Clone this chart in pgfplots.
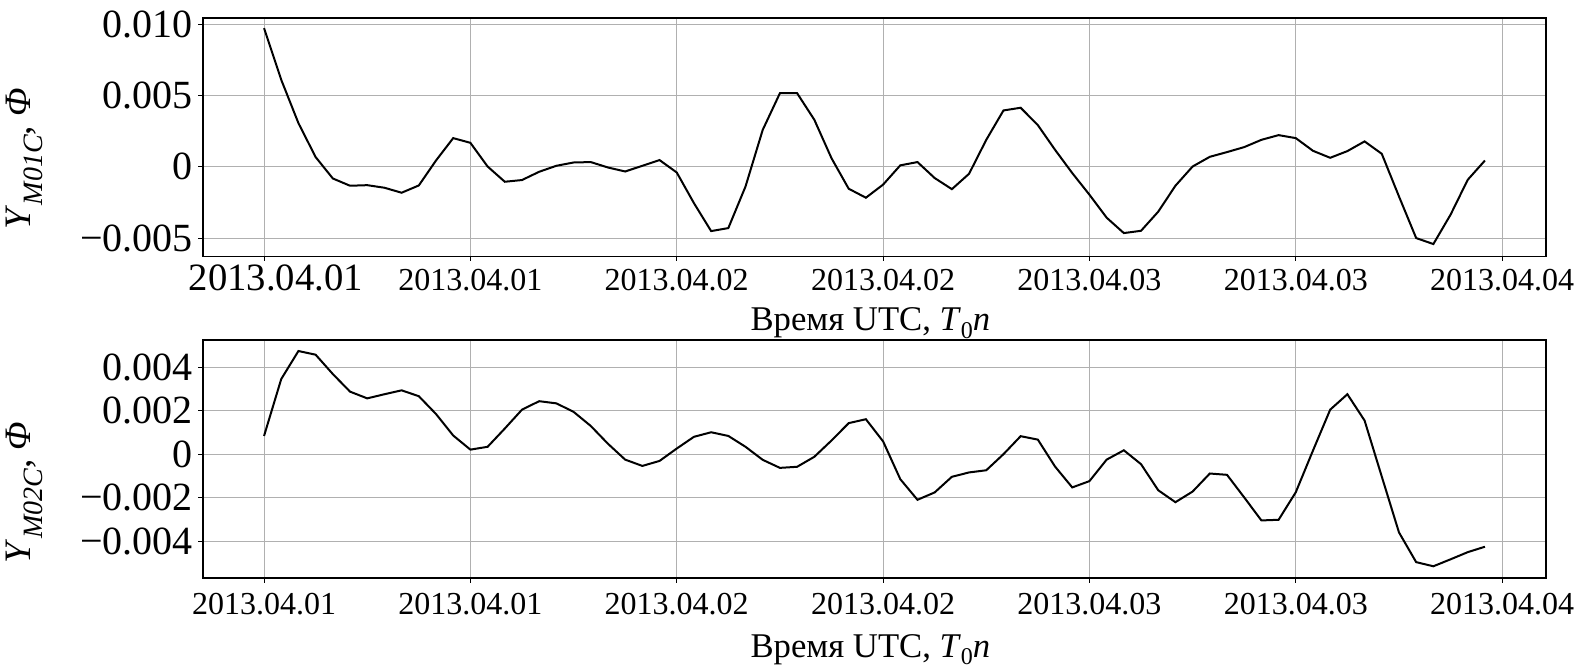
\documentclass[border=0pt]{standalone}
\usepackage{fontspec}
\setmainfont{Liberation Serif}
\usepackage{pgfplots}
\usepackage{pgfplotstable}
\pgfplotsset{compat=1.18}

\pgfplotstableread{
x y
0 0.00972
1 0.0061
2 0.00306
3 0.00068
4 -0.00082
5 -0.00133
6 -0.00129
7 -0.00147
8 -0.00182
9 -0.00131
10 0.00044
11 0.00201
12 0.00168
13 0.00002
14 -0.00105
15 -0.00093
16 -0.00035
17 0.00007
18 0.0003
19 0.00033
20 -0.00005
21 -0.00033
22 0.00007
23 0.00047
24 -0.0004
25 -0.00255
26 -0.00451
27 -0.0043
28 -0.00138
29 0.00259
30 0.00516
31 0.00516
32 0.0033
33 0.0006
34 -0.00154
35 -0.00217
36 -0.00125
37 0.0001
38 0.00033
39 -0.00079
40 -0.00157
41 -0.00049
42 0.00189
43 0.00395
44 0.00414
45 0.00292
46 0.00119
47 -0.00044
48 -0.00196
49 -0.00357
50 -0.00465
51 -0.00449
52 -0.00315
53 -0.00133
54 0.00002
55 0.0007
56 0.00103
57 0.00138
58 0.00189
59 0.00222
60 0.00201
61 0.00112
62 0.00063
63 0.0011
64 0.00178
65 0.00091
66 -0.00208
67 -0.005
68 -0.00542
69 -0.00336
70 -0.00091
71 0.00044
}\topdata

\pgfplotstableread{
x y
0 0.00084
1 0.00346
2 0.00475
3 0.00458
4 0.00369
5 0.00288
6 0.00257
7 0.00276
8 0.00294
9 0.00267
10 0.00185
11 0.00086
12 0.00021
13 0.00034
14 0.00118
15 0.00205
16 0.00244
17 0.00234
18 0.00195
19 0.0013
20 0.00048
21 -0.00025
22 -0.00054
23 -0.00031
24 0.00026
25 0.0008
26 0.00101
27 0.00084
28 0.00034
29 -0.00026
30 -0.00063
31 -0.00058
32 -0.00012
33 0.00063
34 0.00143
35 0.00161
36 0.00059
37 -0.00115
38 -0.0021
39 -0.00176
40 -0.00104
41 -0.00084
42 -0.00074
43 0.0
44 0.00083
45 0.00067
46 -0.00057
47 -0.00153
48 -0.00124
49 -0.00025
50 0.00018
51 -0.00046
52 -0.00166
53 -0.00221
54 -0.00172
55 -0.00089
56 -0.00095
57 -0.00199
58 -0.00305
59 -0.00302
60 -0.00175
61 0.00017
62 0.00205
63 0.00276
64 0.00155
65 -0.00103
66 -0.0036
67 -0.00497
68 -0.00516
69 -0.00484
70 -0.00451
71 -0.00426
}\botdata

\newcommand{\tl}{\fontsize{24}{28}\selectfont}
\newcommand{\yl}{\fontsize{30}{34}\selectfont}

\pgfplotsset{
  myaxis/.style={
    scale only axis,
    width=1007.25pt,
    xmin=-3.55, xmax=74.55,
    xtick={0,12,24,36,48,60,72},
    scaled y ticks=false,
    grid=major,
    major grid style={color=black!31, line width=0.6pt},
    axis line style={line width=1.1pt},
    tick align=outside,
    major tick length=3.4pt,
    tick style={line width=0.75pt, color=black},
    xtick pos=bottom, ytick pos=left,
    yticklabel style={font=\yl, anchor=east, inner sep=0pt, xshift=-4pt},
    xlabel style={font=\fontsize{26}{30}\selectfont, anchor=base, inner sep=0pt},
    ylabel style={font=\fontsize{28}{32}\selectfont, anchor=center, inner sep=0pt},
    xlabel={Время UTC, \textit{T}\raisebox{-0.22em}{\fontsize{18}{20}\selectfont 0}\textit{n}},
  }
}

\begin{document}
\begin{tikzpicture}
\useasboundingbox (0,0) rectangle (1182.75pt,500.25pt);
\begin{axis}[myaxis,
  at={(152.25pt,307.9pt)}, anchor=south west,
  height=178.9pt,
  ymin=-0.00629, ymax=0.01044,
  ytick={-0.005,0,0.005,0.010},
  yticklabels={−0.005,0,0.005,0.010},
  xticklabels={{\hspace*{17.8pt}\fontsize{29}{32}\selectfont 2013.04.01},2013.04.01,2013.04.02,2013.04.02,2013.04.03,2013.04.03,2013.04.04},
  xticklabel style={font=\tl, anchor=base, inner sep=0pt, yshift=-22pt},
  xlabel style={at={(axis description cs:0.497,-0.311)}},
  ylabel style={at={(axis description cs:-0.133,0.41)}},
  ylabel={\textit{Y}\raisebox{-0.3em}{\fontsize{21}{23}\selectfont\textit{M01C}}, \textit{Φ}},
]
\addplot[black, line width=1.5pt] table[x=x,y=y] {\topdata};
\end{axis}
\begin{axis}[myaxis,
  at={(152.25pt,66.75pt)}, anchor=south west,
  height=178.5pt,
  ymin=-0.0057, ymax=0.005257,
  ytick={-0.004,-0.002,0,0.002,0.004},
  yticklabels={−0.004,−0.002,0,0.002,0.004},
  xticklabels={2013.04.01,2013.04.01,2013.04.02,2013.04.02,2013.04.03,2013.04.03,2013.04.04},
  xticklabel style={font=\tl, anchor=base, inner sep=0pt, yshift=-24pt},
  xlabel style={at={(axis description cs:0.497,-0.332)}},
  ylabel style={at={(axis description cs:-0.133,0.36)}},
  ylabel={\textit{Y}\raisebox{-0.3em}{\fontsize{21}{23}\selectfont\textit{M02C}}, \textit{Φ}},
]
\addplot[black, line width=1.5pt] table[x=x,y=y] {\botdata};
\end{axis}
\end{tikzpicture}
\end{document}
